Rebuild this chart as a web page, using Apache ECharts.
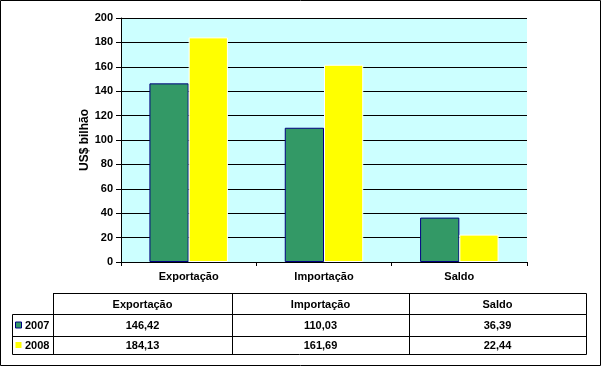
<!DOCTYPE html>
<html><head><meta charset="utf-8">
<script src="https://cdn.jsdelivr.net/npm/echarts@6/dist/echarts.min.js"></script>
<style>html,body{margin:0;padding:0;background:#fff}#c{width:602px;height:366px}</style>
</head><body><div id="c"></div>
<script>
var categories = ['Exportação', 'Importação', 'Saldo'];
var years = ['2007', '2008'];
var values2007 = [146.42, 110.03, 36.39];
var values2008 = [184.13, 161.69, 22.44];
var yTicks = [0, 20, 40, 60, 80, 100, 120, 140, 160, 180, 200];

var FONT = 'Liberation Sans';
var colors = ['#339966', '#FFFF00'];
var borders = ['#000080', '#FFFFFF'];
var seriesVals = [values2007, values2008];

function fmt(v){ return v.toFixed(2).replace('.', ','); }

var colX = [53, 232, 409, 586];
var rowY = [293, 314, 336, 354];
var g = [];
g.push({type:'rect', shape:{x:0.5,y:0.5,width:600,height:365}, style:{fill:null, stroke:'#000', lineWidth:1}, silent:true});
g.push({type:'rect', shape:{x:colX[0]+0.5,y:rowY[0]+0.5,width:colX[3]-colX[0],height:rowY[1]-rowY[0]}, style:{fill:null, stroke:'#000', lineWidth:1}});
g.push({type:'rect', shape:{x:12.5,y:rowY[1]+0.5,width:colX[3]-12,height:rowY[3]-rowY[1]}, style:{fill:null, stroke:'#000', lineWidth:1}});
g.push({type:'line', shape:{x1:12, y1:rowY[2]+0.5, x2:colX[3], y2:rowY[2]+0.5}, style:{stroke:'#000', lineWidth:1}});
for (var i = 0; i < 3; i++) {
  var x = colX[i] + 0.5;
  g.push({type:'line', shape:{x1:x, y1:rowY[0], x2:x, y2:rowY[3]}, style:{stroke:'#000', lineWidth:1}});
  g.push({type:'text', style:{x:(colX[i]+colX[i+1])/2, y:(rowY[0]+rowY[1])/2+1, text:categories[i], align:'center', verticalAlign:'middle', font:'bold 11px "'+FONT+'"', fill:'#000'}});
  for (var s = 0; s < 2; s++) {
    g.push({type:'text', style:{x:(colX[i]+colX[i+1])/2, y:(rowY[s+1]+rowY[s+2])/2+1, text:fmt(seriesVals[s][i]), align:'center', verticalAlign:'middle', font:'bold 11px "'+FONT+'"', fill:'#000'}});
  }
}
for (var s = 0; s < 2; s++) {
  var cy = (rowY[s+1]+rowY[s+2])/2;
  g.push({type:'rect', shape:{x:15.5, y:cy-3, width:6, height:6}, style:{fill:colors[s], stroke:s===0?borders[0]:null, lineWidth:1}});
  g.push({type:'text', style:{x:25, y:cy+1, text:years[s], align:'left', verticalAlign:'middle', font:'bold 11px "'+FONT+'"', fill:'#000'}});
}

var chart = echarts.init(document.getElementById('c'), null, {renderer:'canvas'});
chart.setOption({
  animation:false,
  backgroundColor:'#fff',
  grid:{left:121, top:18, width:406, height:244, show:true, backgroundColor:'#CCFFFF', borderWidth:0},
  xAxis:{type:'category', data:categories,
    axisLine:{lineStyle:{color:'#000', width:1}},
    axisTick:{show:true, length:4, lineStyle:{color:'#000'}, alignWithLabel:false},
    axisLabel:{color:'#000', fontFamily:FONT, fontWeight:'bold', fontSize:11, margin:9},
    splitLine:{show:false}},
  yAxis:{type:'value', min:0, max:200, interval:20,
    name:'US$ bilhão', nameLocation:'middle', nameGap:30, nameMoveOverlap:false,
    nameTextStyle:{color:'#000', fontFamily:FONT, fontWeight:'bold', fontSize:12},
    axisLine:{show:true, lineStyle:{color:'#000', width:1}},
    axisTick:{show:true, length:5, lineStyle:{color:'#000'}},
    axisLabel:{color:'#000', fontFamily:FONT, fontWeight:'bold', fontSize:11, margin:8,
      formatter:function(v){ return yTicks.indexOf(v) >= 0 ? String(v) : ''; }},
    splitLine:{show:true, lineStyle:{color:'#000', width:1}}},
  series:[0,1].map(function(s){
    return {type:'bar', name:years[s], data:seriesVals[s], barGap:'0%', barCategoryGap:'42%',
      itemStyle:{color:colors[s], borderColor:borders[s], borderWidth:1}};
  }),
  graphic:g
});
</script></body></html>
